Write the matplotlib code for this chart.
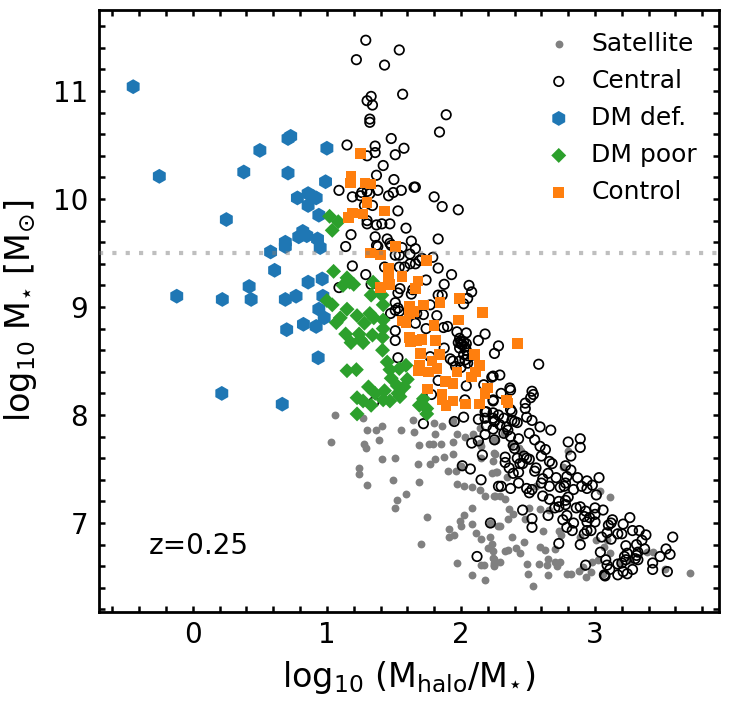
import matplotlib
matplotlib.use('Agg')
import matplotlib.pyplot as plt
import numpy as np
from matplotlib.ticker import MultipleLocator

### (log10 Mhalo/M*, log10 M*) ###
dm_def = [(-0.445,11.04),(-0.25,10.21),(0.38,10.25),(0.50,10.45),(0.71,10.56),(0.73,10.58),(1.00,10.47),
	(0.71,10.24),(0.99,10.16),(0.78,10.01),(0.86,10.05),(0.90,10.02),(0.92,10.01),(0.86,9.94),(0.94,9.85),
	(0.25,9.81),(0.82,9.70),(0.79,9.65),(0.85,9.66),(0.93,9.63),(0.69,9.60),(0.69,9.56),(0.95,9.55),(0.58,9.51),
	(0.61,9.34),(0.86,9.23),(0.965,9.26),(0.42,9.19),(-0.12,9.10),(0.22,9.07),(0.435,9.07),(0.69,9.07),(0.77,9.10),
	(0.97,9.10),(0.94,8.98),(0.98,8.90),(0.92,8.82),(0.825,8.84),(0.70,8.79),(0.935,8.53),(0.216,8.20),(0.667,8.10)]

dm_poor = [(1.02,9.84),(1.085,9.79),(1.04,9.71),(1.05,9.33),(1.15,9.27),(1.12,9.20),(1.20,9.21),(1.17,9.23),
	(1.345,9.23),(1.33,9.11),(1.41,9.11),(1.00,9.06),(1.04,9.02),(1.15,8.98),(1.42,9.02),(1.225,8.92),(1.32,8.94),
	(1.35,8.90),(1.42,8.88),(1.10,8.90),(1.07,8.855),(1.28,8.85),(1.42,8.80),(1.14,8.75),(1.24,8.75),(1.34,8.74),
	(1.415,8.72),(1.18,8.67),(1.25,8.70),(1.27,8.67),(1.415,8.60),(1.45,8.49),(1.59,8.46),(1.54,8.43),(1.47,8.42),
	(1.15,8.41),(1.22,8.42),(1.60,8.33),(1.48,8.34),(1.525,8.27),(1.575,8.26),(1.31,8.26),(1.43,8.225),(1.36,8.20),
	(1.53,8.20),(1.545,8.17),(1.225,8.16),(1.27,8.13),(1.33,8.09),(1.42,8.14),(1.47,8.13),(1.72,8.15),(1.69,8.09),
	(1.745,8.06),(1.745,8.01),(1.225,8.01)]

control = [(1.25,10.42),(1.18,10.21),(1.175,10.15),(1.285,10.15),(1.33,10.14),(1.30,9.97),(1.19,9.87),(1.16,9.83),
	(1.27,9.86),(1.43,9.89),(1.51,9.56),(1.326,9.50),(1.40,9.48),(1.745,9.43),(1.46,9.36),(1.46,9.31),(1.46,9.26),
	(1.56,9.28),(1.68,9.24),(1.66,9.17),(1.40,9.18),(1.47,9.21),(1.845,9.04),(1.99,9.08),(2.16,8.95),(1.98,8.88),
	(1.615,9.01),(1.72,9.02),(1.645,8.96),(1.615,8.94),(1.56,8.87),(1.59,8.85),(1.80,8.83),(1.615,8.72),(1.625,8.68),
	(1.67,8.69),(1.71,8.70),(1.81,8.69),(1.70,8.57),(1.84,8.56),(2.10,8.56),(1.785,8.50),(1.69,8.46),(1.68,8.41),
	(1.76,8.40),(1.82,8.43),(1.97,8.40),(2.14,8.46),(2.11,8.40),(2.08,8.35),(1.885,8.31),(1.94,8.29),(2.20,8.25),
	(2.18,8.20),(1.75,8.24),(1.86,8.19),(1.86,8.14),(1.94,8.13),(1.89,8.09),(2.035,8.10),(2.14,8.10),(2.42,8.66),
	(2.34,8.14),(2.35,8.11)]

central = [(1.29,11.47),(1.54,11.38),(1.22,11.29),(1.43,11.24),(1.565,10.97),(1.33,10.95),(1.30,10.91),(1.34,10.87),
	(1.32,10.74),(1.32,10.71),(1.48,10.56),(1.575,10.47),(1.36,10.49),(1.15,10.50),(1.36,10.43),(1.30,10.40),(1.51,10.41),
	(1.42,10.31),(1.37,10.22),(1.50,10.18),(1.09,10.08),(1.66,10.11),(1.555,10.08),(1.495,10.06),(1.46,10.03),(1.38,10.08),
	(1.32,10.05),(1.30,10.07),(1.26,10.06),(1.19,10.02),(1.25,10.03),(1.34,9.94),(1.28,9.94),(1.53,9.89),(1.30,9.80),
	(1.30,9.77),(1.37,9.76),(1.41,9.77),(1.47,9.77),(1.59,9.73),(1.18,9.67),(1.36,9.65),(1.45,9.63),(1.63,9.61),(1.47,9.59),
	(1.14,9.56),(1.37,9.57),(1.56,9.55),(1.66,9.54),(1.51,9.48),(1.54,9.48),(1.62,9.40),(1.66,9.40),(1.58,9.37),(1.69,9.43),
	(1.19,9.38),(1.43,9.37),(1.29,9.30),(1.33,9.21),(1.09,9.18),(1.545,9.17),(1.53,9.13),(1.63,9.12),(1.51,9.04),(1.53,8.99),
	(1.89,10.78),(1.84,10.62),(1.80,10.02),(1.86,9.93),(1.98,9.90),(1.65,10.11),
	(1.38,9.56),(1.48,9.57),(1.83,9.63),(1.79,9.46),(1.62,9.49),(1.71,9.45),(1.54,9.37),(1.83,9.36),(1.93,9.30),(1.875,9.21),
	(1.74,9.25),(2.06,9.20),(2.08,9.14),(2.05,9.08),(2.02,9.03),(1.83,9.11),(1.86,9.11),(1.64,9.16),(1.51,8.97),(1.54,8.96),
	(1.475,8.94),(1.67,8.94),(1.77,9.02),(1.72,8.93),(1.82,8.92),(1.66,8.85),(1.74,8.80),(1.87,8.81),(1.90,8.82),(1.97,8.77),
	(2.04,8.76),(2.18,8.75),(2.13,8.69),(1.99,8.71),(2.00,8.66),(2.04,8.66),(1.98,8.67),(2.02,8.68),(2.28,8.64),(2.25,8.57),
	(1.875,8.62),(1.51,8.78),(1.51,8.69),(1.53,8.53),(1.77,8.54),(2.04,8.60),(2.02,8.56),(1.94,8.50),(1.99,8.50),(2.03,8.51),
	(2.05,8.48),(1.92,8.52),(2.23,8.35),(1.83,8.32),(1.78,8.19),(2.04,8.27),(2.17,8.28),(2.24,8.14),(2.03,8.14),(2.18,8.03),
	(2.13,7.96),(2.02,7.98),(1.72,7.92),(2.25,7.94),(2.24,7.97),(2.18,7.82),(2.08,7.74),(2.13,7.76),(2.25,7.77),(1.95,7.94),
	(1.35,8.12),(2.16,7.63),(2.01,7.53),(2.07,7.50),(2.15,7.40),(2.22,7.00),(2.12,6.69),(2.28,7.34),
	(2.53,8.22),(2.52,8.16),(2.365,8.25),(2.48,8.11),(2.48,8.06),(2.37,8.05),(2.49,7.98),(2.53,7.95),(2.59,7.89),(2.67,7.86),
	(2.42,7.93),(2.24,7.87),(2.19,7.90),(2.35,7.86),(2.37,7.80),(2.43,7.78),(2.51,7.83),(2.55,7.77),(2.59,7.71),(2.63,7.68),
	(2.40,7.69),(2.80,7.75),(2.89,7.78),(2.89,7.70),(2.82,7.62),(2.60,7.62),(2.49,7.60),(2.33,7.61),(2.33,7.56),(2.36,7.51),
	(2.39,7.46),(2.43,7.47),(2.44,7.55),(2.51,7.59),(2.56,7.51),(2.55,7.48),(2.66,7.57),(2.68,7.55),(2.78,7.53),(2.82,7.49),
	(2.65,7.46),(2.61,7.41),(2.71,7.42),(2.79,7.43),(2.87,7.42),(3.03,7.42),(2.94,7.39),(2.98,7.35),(2.90,7.34),(2.94,7.32),
	(2.84,7.31),(2.78,7.37),(2.77,7.34),(2.74,7.33),(2.66,7.34),(2.60,7.37),(2.43,7.37),(2.37,7.32),(2.30,7.34),(2.49,7.32),
	(2.53,7.31),(2.51,7.28),(2.61,7.25),(2.66,7.22),(3.01,7.26),(2.80,7.24),(2.78,7.21),(2.73,7.20),(2.70,7.14),(2.73,7.15),
	(2.78,7.17),(2.86,7.14),(2.89,7.15),(3.00,7.14),(3.06,7.12),(2.93,7.11),(3.00,7.08),(2.92,7.06),(2.96,7.05),(2.79,7.07),
	(2.76,7.03),(2.65,7.07),(2.46,7.12),(2.53,7.04),(2.53,6.96),(2.94,7.01),(3.00,7.01),(2.84,7.00),(2.79,6.96),(2.83,6.93),
	(2.92,6.90),(2.94,6.93),(2.97,6.93),(3.05,6.87),(3.09,6.91),(3.10,6.98),(3.13,7.03),(3.12,7.00),(3.26,7.05),(3.21,6.99),
	(3.17,6.90),(3.20,6.90),(3.12,6.85),(3.28,6.93),(3.33,6.93),(3.38,6.89),(3.35,6.84),(3.31,6.80),(3.37,6.76),(3.23,6.79),
	(3.58,6.87),(3.53,6.76),(3.56,6.71),(3.485,6.69),(3.32,6.73),(3.31,6.70),(3.30,6.67),(3.32,6.66),(3.24,6.72),(3.22,6.69),
	(3.23,6.66),(3.43,6.63),(3.43,6.57),(3.54,6.55),(3.28,6.57),(3.21,6.55),(3.24,6.53),(3.17,6.52),(3.20,6.63),(3.17,6.62),
	(3.11,6.57),(3.08,6.66),(3.09,6.61),(3.07,6.52),(3.075,6.51),(3.04,6.73),(2.93,6.61),(2.89,6.80),(2.73,6.81),
	(2.19,8.03),(2.24,8.02),(2.25,7.95),(2.18,7.97),(2.28,8.00),(2.32,7.97),(2.38,7.95),(2.29,7.91),(2.34,7.89),(2.39,7.72),
	(2.32,7.83),(2.24,8.13),(2.30,8.20),(2.38,8.03),(2.37,8.23),(2.29,8.37),(2.24,8.36),(2.58,8.47),(2.54,8.19),
	(2.00,8.68),(2.01,8.65),(2.03,8.63),(1.99,8.62),(2.05,8.55),(1.96,8.45),(2.00,8.44),(2.10,8.47),(2.40,7.94),(2.47,7.62),
	(2.42,7.60),(2.46,7.55)]

satellite = [(1.06,8.00),(1.27,7.97),(1.30,7.86),(1.37,7.86),(1.41,7.90),(1.555,7.86),(1.64,7.95),(1.65,7.84),(1.80,7.93),
	(1.86,7.90),(1.81,7.82),(1.97,7.82),(2.03,7.80),(2.09,7.82),(1.94,7.75),(1.03,7.75),(1.28,7.73),(1.39,7.77),(1.69,7.72),
	(1.76,7.73),(1.79,7.73),(1.85,7.73),(2.14,7.74),(2.25,7.77),(1.29,7.69),(1.41,7.59),(1.51,7.60),(1.24,7.51),(1.24,7.45),
	(1.30,7.35),(1.49,7.40),(1.68,7.55),(1.69,7.38),(1.59,7.27),(1.52,7.21),(1.51,7.14),(1.75,7.06),(1.70,6.81),(1.77,7.55),
	(1.81,7.59),(1.87,7.61),(1.94,7.64),(1.90,7.48),(1.96,7.48),(2.00,7.53),(1.97,7.36),(2.02,7.34),(2.08,7.33),(2.145,7.31),
	(2.18,7.25),(2.08,7.14),(2.02,7.07),(1.99,7.02),(2.00,6.97),(2.08,6.99),(1.91,6.94),(1.91,6.87),(1.95,6.89),(2.11,6.91),
	(2.15,6.85),(2.22,6.87),(2.23,6.81),(2.20,6.77),(2.24,6.74),(2.24,6.68),(1.97,6.63),(2.15,6.61),(2.17,6.61),(2.08,6.52),
	(2.18,6.47),(2.25,6.63),(2.25,6.60),(2.28,6.97),(2.255,7.64),(2.24,7.57),(2.23,7.46),(2.26,7.47),(2.255,7.25),(2.15,7.60),
	(2.15,7.71),(2.26,7.77),(2.14,7.88),(2.22,7.00),(1.94,7.94),
	(2.25,7.65),(2.27,7.47),(2.25,7.25),(2.29,7.25),(2.33,7.22),(2.34,7.43),(2.36,7.13),(2.39,7.08),(2.35,7.04),(2.29,6.97),
	(2.51,7.14),(2.48,7.04),(2.59,7.13),(2.66,7.12),(2.61,6.93),(2.73,6.93),(2.75,6.89),(2.38,6.87),(2.47,6.82),(2.41,6.77),
	(2.35,6.75),(2.33,6.74),(2.44,6.72),(2.25,6.67),(2.29,6.64),(2.25,6.61),(2.49,6.62),(2.58,6.62),(2.50,6.53),(2.54,6.42),
	(2.65,6.52),(2.59,6.78),(2.63,6.75),(2.65,6.67),(2.64,6.61),(2.70,6.64),(2.74,6.64),(2.72,6.60),(2.70,6.76),(2.79,6.53),
	(2.82,6.53),(2.88,6.56),(2.91,6.59),(2.93,6.50),(2.97,6.55),(2.98,6.64),(3.02,6.66),(3.07,6.78),(3.09,6.84),(3.01,6.84),
	(2.89,6.87),(2.80,7.67),(3.11,7.24),(3.04,7.30),(3.71,6.54),(3.52,6.57),(3.43,6.73),(3.39,6.73),(3.19,6.62),(3.11,6.72),
	(2.76,7.52),(2.45,7.67),(2.25,7.77),(2.32,7.83),(2.37,7.72),(2.43,7.69),(2.56,7.34),(3.26,6.66),(3.06,6.53)]

z_text = 'z=0.25'
mstar_cut = 9.5


def scatter(ax, pts, **kw):
	x, y = np.array(pts).T
	ax.scatter(x, y, **kw)


fig = plt.figure(figsize=(7.29, 7.05), dpi=100)
ax = fig.add_axes([99/729, 1-612/705, 620/729, 602/705])

scatter(ax, satellite, s=32, marker='o', color='gray', linewidths=0, label='Satellite', zorder=2)
scatter(ax, central, s=46, marker='o', facecolors='none', edgecolors='k', linewidths=1.25, label='Central', zorder=3)
scatter(ax, dm_def, s=115, marker='h', color='C0', edgecolors='none', label='DM def.', zorder=4)
scatter(ax, dm_poor, s=58, marker='D', color='C2', edgecolors='none', label='DM poor', zorder=5)
scatter(ax, control, s=58, marker='s', color='C1', edgecolors='none', label='Control', zorder=6)
ax.axhline(mstar_cut, color='gray', ls=(0, (1, 2.2)), lw=3, alpha=0.5, zorder=7)

ax.set_xlim(-0.70, 3.925)
ax.set_ylim(6.176, 11.75)
ax.xaxis.set_major_locator(MultipleLocator(1))
ax.xaxis.set_minor_locator(MultipleLocator(0.2))
ax.yaxis.set_major_locator(MultipleLocator(1))
ax.yaxis.set_minor_locator(MultipleLocator(0.2))
ax.tick_params(which='both', direction='in', top=True, right=True, width=1.8, length=4.5, labelsize=20)
ax.tick_params(axis='x', which='both', pad=6.5)
ax.tick_params(axis='y', which='both', pad=8)
for s in ax.spines.values():
	s.set_linewidth(2)

ax.set_xlabel(r'log$_{10}$ (M$_{\rm halo}$/M$_{\star}$)', fontsize=24, labelpad=7)
ax.set_ylabel(r'log$_{10}$ M$_{\star}$ [M$_{\odot}$]', fontsize=24, labelpad=10)
ax.text(-0.33, 6.79, z_text, fontsize=20, va='center')
ax.legend(loc='upper right', frameon=False, fontsize=18, labelspacing=0.52, handletextpad=0.3,
	borderaxespad=0.48, scatterpoints=1)

fig.savefig('out.png', dpi=100)
